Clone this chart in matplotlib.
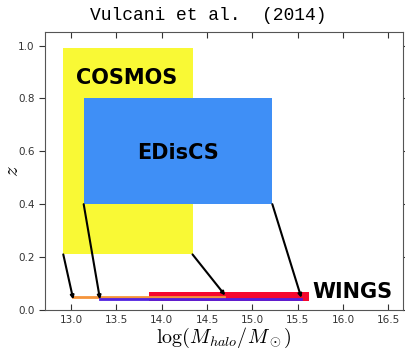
import matplotlib
matplotlib.use("Agg")
import matplotlib.pyplot as plt
from matplotlib.patches import Rectangle

plt.rcParams["mathtext.fontset"] = "cm"

# survey boxes: halo mass range (log) and redshift range
surveys = ["COSMOS", "EDisCS", "WINGS"]
mass_lo = [12.915, 13.14, 13.86]
mass_hi = [14.34, 15.22, 15.62]
z_lo = [0.21, 0.40, 0.033]
z_hi = [0.99, 0.80, 0.066]
colors = ["#f9f935", "#3f8ff6", "#f5082e"]

# label positions
label_x = [13.61, 14.18, 15.66]
label_z = [0.876, 0.593, 0.069]

# evolved ranges at WINGS redshift
orange_x = [13.02, 14.69]
orange_z = [0.050, 0.050]
purple_x = [13.32, 15.54]
purple_z = [0.043, 0.043]

# arrows: start (box corner) -> end
arrow_x0 = [12.915, 13.14, 14.34, 15.22]
arrow_z0 = [0.21, 0.40, 0.21, 0.40]
arrow_x1 = [13.025, 13.32, 14.70, 15.54]
arrow_z1 = [0.040, 0.040, 0.055, 0.046]

fig = plt.figure(figsize=(4.05, 3.51), dpi=100)
ax = fig.add_axes([0.111, 0.117, 0.885, 0.791])

for i in range(len(surveys)):
    ax.add_patch(Rectangle((mass_lo[i], z_lo[i]), mass_hi[i] - mass_lo[i],
                           z_hi[i] - z_lo[i], facecolor=colors[i],
                           edgecolor="none", zorder=1 + i))

ax.plot(orange_x, orange_z, color="#f5943a", lw=2, zorder=5)
ax.plot(purple_x, purple_z, color="#5020e0", lw=2, zorder=5)

for i in range(len(arrow_x0)):
    ax.annotate("", xy=(arrow_x1[i], arrow_z1[i]), xytext=(arrow_x0[i], arrow_z0[i]),
                arrowprops=dict(arrowstyle="-|>", color="black", lw=1.5,
                                mutation_scale=5, shrinkA=0, shrinkB=0),
                zorder=6)

ax.text(label_x[0], label_z[0], surveys[0], ha="center", va="center",
        fontsize=15, fontweight="bold", zorder=7)
ax.text(label_x[1], label_z[1], surveys[1], ha="center", va="center",
        fontsize=15, fontweight="bold", zorder=7)
ax.text(label_x[2], label_z[2], surveys[2], ha="left", va="center",
        fontsize=15, fontweight="bold", zorder=7)

ax.set_xlim(12.713, 16.665)
ax.set_ylim(0, 1.05)
ax.set_xticks([13.0, 13.5, 14.0, 14.5, 15.0, 15.5, 16.0, 16.5])
ax.set_yticks([0.0, 0.2, 0.4, 0.6, 0.8, 1.0])
ax.tick_params(axis="both", labelsize=7.5, colors="#333333", length=4,
               top=True, right=True, direction="in")
ax.tick_params(axis="y", which="both", left=True, direction="out")
for s in ax.spines.values():
    s.set_color("#555555")

ax.set_xlabel(r"$\log(M_{halo}/M_\odot)$", fontsize=14.5, labelpad=1)
ax.set_ylabel(r"$z$", fontsize=15)
ax.yaxis.set_label_coords(-0.064, 0.5)
fig.text(0.514, 0.957, "Vulcani et al.  (2014)", ha="center", va="center",
         fontsize=13, family="Liberation Mono")

fig.savefig("out.png", dpi=100)
